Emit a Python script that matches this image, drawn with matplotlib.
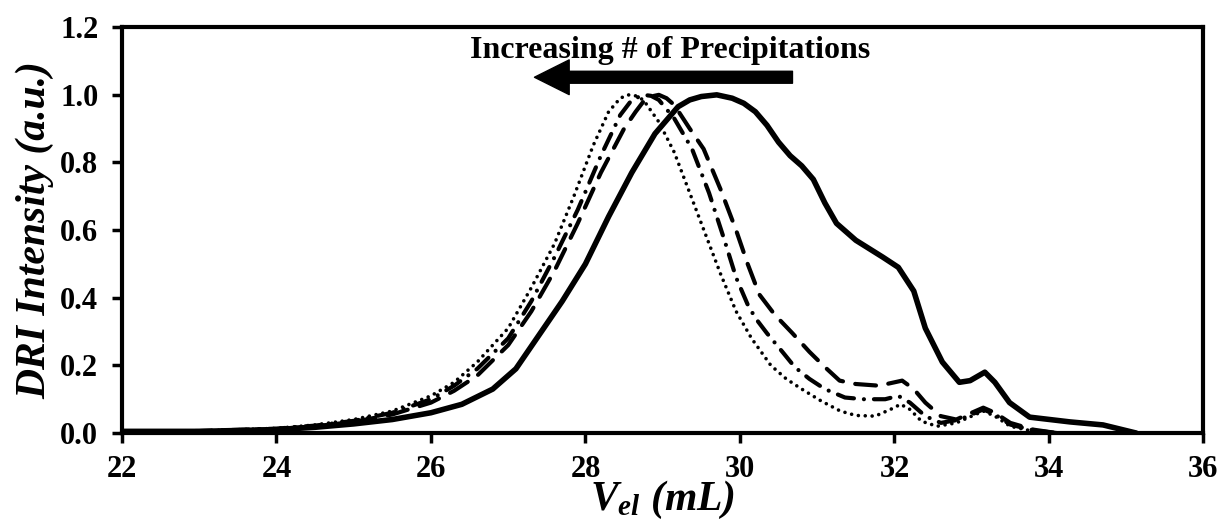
import matplotlib
matplotlib.use("Agg")
import matplotlib.pyplot as plt

plt.rcParams['font.family'] = ['Liberation Serif', 'DejaVu Serif']
plt.rcParams['mathtext.fontset'] = 'custom'
plt.rcParams['mathtext.it'] = 'Liberation Serif:italic:bold'
plt.rcParams['mathtext.rm'] = 'Liberation Serif:bold'

# solid: starting material
solid_x = [22.0, 23.0, 24.0, 24.5, 25.0, 25.5, 26.0, 26.4, 26.8, 27.1, 27.4, 27.7, 28.0, 28.3,
           28.6, 28.9, 29.2, 29.35, 29.5, 29.7, 29.9, 30.05, 30.2, 30.35, 30.5, 30.65, 30.8,
           30.95, 31.1, 31.25, 31.5, 31.85, 32.05, 32.25, 32.4, 32.62, 32.84, 32.98, 33.17,
           33.3, 33.49, 33.75, 34.27, 34.7, 35.13]
solid_y = [0.005, 0.005, 0.01, 0.017, 0.027, 0.04, 0.06, 0.085, 0.13, 0.19, 0.29, 0.39, 0.50,
           0.64, 0.77, 0.885, 0.965, 0.985, 0.995, 1.0, 0.99, 0.975, 0.95, 0.91, 0.86, 0.82,
           0.79, 0.75, 0.68, 0.62, 0.57, 0.52, 0.49, 0.42, 0.31, 0.21, 0.15, 0.155, 0.18,
           0.15, 0.09, 0.047, 0.033, 0.024, 0.0]

dash_x = [22.0, 23.0, 24.0, 24.5, 25.0, 25.5, 26.0, 26.3, 26.6, 27.0, 27.3, 27.6, 27.9, 28.2,
          28.5, 28.65, 28.75, 28.85, 28.95, 29.05, 29.15, 29.35, 29.53, 29.75, 29.95, 30.1,
          30.25, 30.45, 30.68, 30.9, 31.1, 31.29, 31.5, 31.8, 32.0, 32.1, 32.25, 32.4, 32.6,
          32.8, 33.0, 33.15, 33.3, 33.5, 33.8, 34.1]
dash_y = [0.005, 0.005, 0.012, 0.02, 0.033, 0.055, 0.09, 0.125, 0.17, 0.26, 0.36, 0.48, 0.62,
          0.77, 0.90, 0.95, 0.98, 0.995, 1.0, 0.99, 0.97, 0.90, 0.84, 0.72, 0.60, 0.50,
          0.41, 0.35, 0.295, 0.24, 0.195, 0.155, 0.145, 0.14, 0.15, 0.155, 0.13, 0.09, 0.05,
          0.04, 0.06, 0.075, 0.06, 0.03, 0.01, 0.0]

dashdot_x = [22.0, 23.0, 24.0, 24.5, 25.0, 25.5, 26.0, 26.3, 26.6, 27.0, 27.3, 27.6, 27.9,
             28.2, 28.45, 28.6, 28.75, 28.85, 28.95, 29.15, 29.38, 29.6, 29.8, 29.95, 30.1,
             30.2, 30.35, 30.55, 30.71, 30.9, 31.1, 31.36, 31.6, 31.88, 32.05, 32.2, 32.4,
             32.6, 32.85, 33.05, 33.15, 33.3, 33.5, 33.8, 34.1]
dashdot_y = [0.005, 0.006, 0.013, 0.022, 0.036, 0.06, 0.10, 0.14, 0.19, 0.28, 0.39, 0.52, 0.66,
             0.82, 0.94, 0.985, 1.0, 0.997, 0.985, 0.93, 0.84, 0.71, 0.57, 0.46, 0.38, 0.34,
             0.295, 0.24, 0.195, 0.16, 0.13, 0.105, 0.10, 0.10, 0.11, 0.09, 0.05, 0.03, 0.04,
             0.06, 0.07, 0.055, 0.025, 0.008, 0.0]

dot_x = [22.0, 23.0, 24.0, 24.5, 25.0, 25.5, 26.0, 26.3, 26.6, 27.0, 27.3, 27.6, 27.85, 28.1,
         28.3, 28.45, 28.55, 28.65, 28.75, 28.95, 29.15, 29.35, 29.55, 29.75, 29.95, 30.15,
         30.4, 30.6, 30.8, 31.05, 31.3, 31.5, 31.75, 31.95, 32.08, 32.2, 32.35, 32.55, 32.8,
         33.0, 33.15, 33.3, 33.5, 33.8, 34.0]
dot_y = [0.005, 0.006, 0.014, 0.024, 0.04, 0.065, 0.11, 0.15, 0.21, 0.31, 0.43, 0.56, 0.70,
         0.85, 0.95, 0.99, 1.0, 0.997, 0.985, 0.92, 0.83, 0.71, 0.59, 0.47, 0.36, 0.28, 0.20,
         0.16, 0.13, 0.095, 0.065, 0.052, 0.05, 0.07, 0.085, 0.07, 0.035, 0.02, 0.03, 0.05,
         0.065, 0.05, 0.02, 0.005, 0.0]

x_ticks = [22, 24, 26, 28, 30, 32, 34, 36]
y_ticks = [0.0, 0.2, 0.4, 0.6, 0.8, 1.0, 1.2]

fig = plt.figure(figsize=(12.28, 5.23), dpi=100)
ax = fig.add_axes([0.0993, 0.172, 0.8807, 0.776])

ax.plot(solid_x, solid_y, color='black', lw=4, solid_capstyle='round', solid_joinstyle='round')
ax.plot(dash_x, dash_y, color='black', lw=3, linestyle=(0, (5, 3)), dash_capstyle='round')
ax.plot(dashdot_x, dashdot_y, color='black', lw=3, linestyle=(0, (4, 2.4, 0.01, 2.4)),
        dash_capstyle='round')
ax.plot(dot_x, dot_y, color='black', lw=2.6, linestyle=(0, (0.01, 1.9)), dash_capstyle='round')

ax.set_xlim(22, 36)
ax.set_ylim(0, 1.2)
ax.set_xticks(x_ticks)
ax.set_yticks(y_ticks)
ax.set_yticklabels([f"{v:.1f}" for v in y_ticks])
ax.tick_params(direction='out', length=7, width=2.5, labelsize=22)
ax.tick_params(axis='y', pad=10)
ax.tick_params(axis='x', pad=9)
for lab in ax.get_xticklabels() + ax.get_yticklabels():
    lab.set_fontweight('bold')
for s in ax.spines.values():
    s.set_linewidth(3)

ax.set_ylabel('DRI Intensity (a.u.)', fontsize=30, fontweight='bold', style='italic', labelpad=4)
ax.set_xlabel(r'$V_{el}$ (mL)', fontsize=30, fontweight='bold', style='italic', labelpad=-4)

ax.text(29.1, 1.11, 'Increasing # of Precipitations', ha='center', va='baseline',
        fontsize=23, fontweight='bold')
ax.annotate('', xy=(27.34, 1.052), xytext=(30.68, 1.052),
            arrowprops=dict(arrowstyle='simple,head_length=2.5,head_width=2.5,tail_width=0.86',
                            color='black', shrinkA=0, shrinkB=0, mutation_scale=10))

fig.savefig('out.png', dpi=100)
